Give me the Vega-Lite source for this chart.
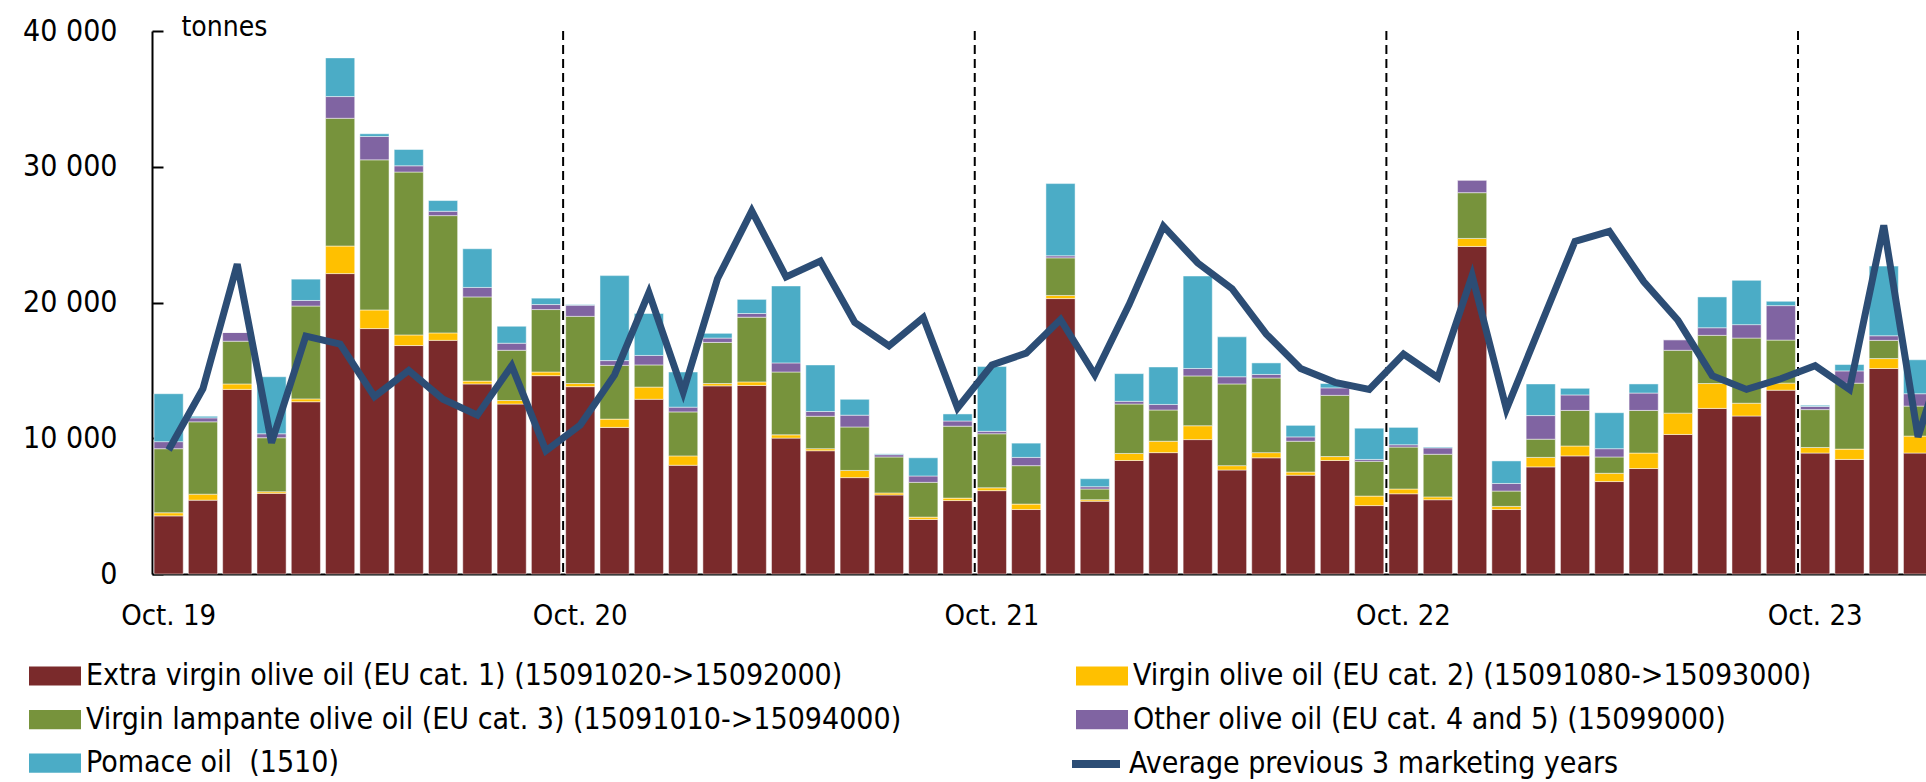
{
  "$schema": "https://vega.github.io/schema/vega-lite/v6.json",
  "width": 1774,
  "height": 543,
  "autosize": {"type": "none"},
  "padding": {"left": 152, "top": 31, "right": 0, "bottom": 208},
  "background": "white",
  "config": {"view": {"stroke": null}, "font": "DejaVu Sans Condensed"},
  "datasets": {
    "main": [
      {"m": "Oct. 19", "cat1": 4280, "cat2": 230, "cat3": 4720, "cat45": 520, "pomace": 3530, "avg": 9140},
      {"m": "Nov. 19", "cat1": 5440, "cat2": 440, "cat3": 5330, "cat45": 290, "pomace": 120, "avg": 13650},
      {"m": "Dec. 19", "cat1": 13600, "cat2": 400, "cat3": 3150, "cat45": 640, "pomace": 0, "avg": 22820},
      {"m": "Jan. 20", "cat1": 5940, "cat2": 120, "cat3": 3980, "cat45": 290, "pomace": 4200, "avg": 9670},
      {"m": "Feb. 20", "cat1": 12690, "cat2": 210, "cat3": 6840, "cat45": 410, "pomace": 1570, "avg": 17530},
      {"m": "Mar. 20", "cat1": 22130, "cat2": 2030, "cat3": 9410, "cat45": 1600, "pomace": 2850, "avg": 16940},
      {"m": "Apr. 20", "cat1": 18080, "cat2": 1370, "cat3": 11060, "cat45": 1720, "pomace": 200, "avg": 13070},
      {"m": "May 20", "cat1": 16830, "cat2": 780, "cat3": 12000, "cat45": 460, "pomace": 1200, "avg": 14990},
      {"m": "Jun. 20", "cat1": 17210, "cat2": 550, "cat3": 8640, "cat45": 320, "pomace": 790, "avg": 12870},
      {"m": "Jul. 20", "cat1": 14000, "cat2": 210, "cat3": 6200, "cat45": 700, "pomace": 2850, "avg": 11700},
      {"m": "Aug. 20", "cat1": 12520, "cat2": 260, "cat3": 3700, "cat45": 520, "pomace": 1250, "avg": 15340},
      {"m": "Sep. 20", "cat1": 14610, "cat2": 270, "cat3": 4600, "cat45": 370, "pomace": 470, "avg": 9080},
      {"m": "Oct. 20", "cat1": 13800, "cat2": 230, "cat3": 4950, "cat45": 820, "pomace": 50, "avg": 10980},
      {"m": "Nov. 20", "cat1": 10800, "cat2": 610, "cat3": 3960, "cat45": 350, "pomace": 6260, "avg": 14670},
      {"m": "Dec. 20", "cat1": 12870, "cat2": 900, "cat3": 1630, "cat45": 700, "pomace": 3090, "avg": 20730},
      {"m": "Jan. 21", "cat1": 8010, "cat2": 690, "cat3": 3240, "cat45": 350, "pomace": 2590, "avg": 13390},
      {"m": "Feb. 21", "cat1": 13860, "cat2": 170, "cat3": 3030, "cat45": 320, "pomace": 350, "avg": 21750},
      {"m": "Mar. 21", "cat1": 13890, "cat2": 260, "cat3": 4770, "cat45": 270, "pomace": 1040, "avg": 26750},
      {"m": "Apr. 21", "cat1": 10010, "cat2": 240, "cat3": 4630, "cat45": 670, "pomace": 5670, "avg": 21890},
      {"m": "May 21", "cat1": 9080, "cat2": 150, "cat3": 2390, "cat45": 350, "pomace": 3430, "avg": 23060},
      {"m": "Jun. 21", "cat1": 7100, "cat2": 530, "cat3": 3200, "cat45": 870, "pomace": 1170, "avg": 18540},
      {"m": "Jul. 21", "cat1": 5820, "cat2": 150, "cat3": 2650, "cat45": 170, "pomace": 60, "avg": 16800},
      {"m": "Aug. 21", "cat1": 4020, "cat2": 170, "cat3": 2560, "cat45": 470, "pomace": 1340, "avg": 18890},
      {"m": "Sep. 21", "cat1": 5410, "cat2": 180, "cat3": 5300, "cat45": 380, "pomace": 520, "avg": 12230},
      {"m": "Oct. 21", "cat1": 6140, "cat2": 210, "cat3": 3980, "cat45": 180, "pomace": 4770, "avg": 15400},
      {"m": "Nov. 21", "cat1": 4750, "cat2": 400, "cat3": 2830, "cat45": 610, "pomace": 1050, "avg": 16270},
      {"m": "Dec. 21", "cat1": 20290, "cat2": 230, "cat3": 2770, "cat45": 150, "pomace": 5320, "avg": 18750},
      {"m": "Jan. 22", "cat1": 5360, "cat2": 110, "cat3": 790, "cat45": 170, "pomace": 590, "avg": 14670},
      {"m": "Feb. 22", "cat1": 8360, "cat2": 520, "cat3": 3640, "cat45": 200, "pomace": 2040, "avg": 19850},
      {"m": "Mar. 22", "cat1": 8940, "cat2": 840, "cat3": 2300, "cat45": 410, "pomace": 2760, "avg": 25620},
      {"m": "Apr. 22", "cat1": 9900, "cat2": 1020, "cat3": 3670, "cat45": 550, "pomace": 6810, "avg": 22910},
      {"m": "May 22", "cat1": 7660, "cat2": 320, "cat3": 6020, "cat45": 530, "pomace": 2940, "avg": 21020},
      {"m": "Jun. 22", "cat1": 8560, "cat2": 380, "cat3": 5500, "cat45": 260, "pomace": 850, "avg": 17670},
      {"m": "Jul. 22", "cat1": 7280, "cat2": 230, "cat3": 2270, "cat45": 320, "pomace": 850, "avg": 15140},
      {"m": "Aug. 22", "cat1": 8360, "cat2": 290, "cat3": 4510, "cat45": 550, "pomace": 320, "avg": 14120},
      {"m": "Sep. 22", "cat1": 5040, "cat2": 700, "cat3": 2560, "cat45": 140, "pomace": 2300, "avg": 13600},
      {"m": "Oct. 22", "cat1": 5910, "cat2": 350, "cat3": 3090, "cat45": 170, "pomace": 1280, "avg": 16200},
      {"m": "Nov. 22", "cat1": 5470, "cat2": 210, "cat3": 3140, "cat45": 470, "pomace": 60, "avg": 14470},
      {"m": "Dec. 22", "cat1": 24130, "cat2": 590, "cat3": 3370, "cat45": 930, "pomace": 0, "avg": 21980},
      {"m": "Jan. 23", "cat1": 4750, "cat2": 230, "cat3": 1130, "cat45": 560, "pomace": 1660, "avg": 12140},
      {"m": "Feb. 23", "cat1": 7890, "cat2": 700, "cat3": 1340, "cat45": 1740, "pomace": 2330, "avg": 18340},
      {"m": "Mar. 23", "cat1": 8700, "cat2": 730, "cat3": 2620, "cat45": 1140, "pomace": 490, "avg": 24510},
      {"m": "Apr. 23", "cat1": 6810, "cat2": 610, "cat3": 1200, "cat45": 610, "pomace": 2650, "avg": 25240},
      {"m": "May 23", "cat1": 7770, "cat2": 1140, "cat3": 3140, "cat45": 1280, "pomace": 670, "avg": 21540},
      {"m": "Jun. 23", "cat1": 10280, "cat2": 1570, "cat3": 4630, "cat45": 780, "pomace": 0, "avg": 18690},
      {"m": "Jul. 23", "cat1": 12200, "cat2": 1830, "cat3": 3550, "cat45": 560, "pomace": 2270, "avg": 14610},
      {"m": "Aug. 23", "cat1": 11640, "cat2": 940, "cat3": 4800, "cat45": 990, "pomace": 3260, "avg": 13600},
      {"m": "Sep. 23", "cat1": 13540, "cat2": 520, "cat3": 3170, "cat45": 2540, "pomace": 320, "avg": 14380},
      {"m": "Oct. 23", "cat1": 8910, "cat2": 410, "cat3": 2790, "cat45": 230, "pomace": 90, "avg": 15340},
      {"m": "Nov. 23", "cat1": 8440, "cat2": 760, "cat3": 4860, "cat45": 900, "pomace": 470, "avg": 13600},
      {"m": "Dec. 23", "cat1": 15140, "cat2": 730, "cat3": 1340, "cat45": 340, "pomace": 5130, "avg": 25680},
      {"m": "Jan. 24", "cat1": 8910, "cat2": 1250, "cat3": 2210, "cat45": 910, "pomace": 2500, "avg": 10100},
      {"m": "Feb. 24", "avg": 18100}
    ],
    "oct": [
      {"m": "Oct. 20"}, {"m": "Oct. 21"}, {"m": "Oct. 22"}, {"m": "Oct. 23"}
    ]
  },
  "data": {"name": "main"},
  "encoding": {
    "x": {
      "field": "m",
      "type": "ordinal",
      "scale": {
        "type": "band",
        "domain": ["Oct. 19","Nov. 19","Dec. 19","Jan. 20","Feb. 20","Mar. 20","Apr. 20","May 20","Jun. 20","Jul. 20","Aug. 20","Sep. 20",
                   "Oct. 20","Nov. 20","Dec. 20","Jan. 21","Feb. 21","Mar. 21","Apr. 21","May 21","Jun. 21","Jul. 21","Aug. 21","Sep. 21",
                   "Oct. 21","Nov. 21","Dec. 21","Jan. 22","Feb. 22","Mar. 22","Apr. 22","May 22","Jun. 22","Jul. 22","Aug. 22","Sep. 22",
                   "Oct. 22","Nov. 22","Dec. 22","Jan. 23","Feb. 23","Mar. 23","Apr. 23","May 23","Jun. 23","Jul. 23","Aug. 23","Sep. 23",
                   "Oct. 23","Nov. 23","Dec. 23","Jan. 24","Feb. 24"],
        "range": [0, 1817],
        "paddingInner": 0.15,
        "paddingOuter": 0.06
      },
      "axis": {
        "values": ["Oct. 19", "Oct. 20", "Oct. 21", "Oct. 22", "Oct. 23"],
        "title": null,
        "ticks": false,
        "grid": false,
        "labelAngle": 0,
        "labelFont": "DejaVu Sans Condensed",
        "labelFontSize": 29,
        "labelColor": "black",
        "labelPadding": 27,
        "domainColor": "black",
        "domainWidth": 2
      }
    }
  },
  "layer": [
    {
      "transform": [
        {"filter": "isValid(datum.cat1)"},
        {"fold": ["cat1", "cat2", "cat3", "cat45", "pomace"], "as": ["key", "value"]}
      ],
      "mark": {"type": "bar", "stroke": "white", "strokeWidth": 0.8, "strokeOpacity": 0.6},
      "encoding": {
        "y": {
          "field": "value",
          "type": "quantitative",
          "stack": "zero",
          "scale": {"domain": [0, 40000], "nice": false},
          "axis": {
            "values": [0, 10000, 20000, 30000, 40000],
            "labelExpr": "replace(format(datum.value, ','), ',', ' ')",
            "grid": false,
            "tickSize": -11,
            "tickWidth": 2,
            "tickColor": "black",
            "domainColor": "black",
            "domainWidth": 2,
            "labelPadding": 46,
            "labelFont": "DejaVu Sans Condensed",
            "labelFontSize": 30,
            "labelColor": "black",
            "title": "tonnes",
            "titleAngle": 0,
            "titleX": 29,
            "titleY": 4,
            "titleAlign": "left",
            "titleBaseline": "alphabetic",
            "titleFont": "DejaVu Sans Condensed",
            "titleFontSize": 28,
            "titleFontWeight": "normal",
            "titleColor": "black"
          }
        },
        "color": {
          "field": "key",
          "type": "nominal",
          "scale": {
            "domain": ["cat1", "cat2", "cat3", "cat45", "pomace"],
            "range": ["#7A2A2B", "#FFC000", "#77933C", "#8064A2", "#4BACC6"]
          },
          "legend": {
            "orient": "none",
            "direction": "horizontal",
            "legendX": -112,
            "legendY": 630,
            "columns": 2,
            "columnPadding": 174,
            "rowPadding": 13.6,
            "padding": 0,
            "title": null,
            "labelFont": "DejaVu Sans Condensed",
            "labelFontSize": 30,
            "labelColor": "black",
            "labelLimit": 0,
            "labelOffset": 16,
            "symbolType": "M-2,-0.74H2V0.74H-2Z",
            "symbolSize": 676,
            "symbolStrokeWidth": 0,
            "symbolOpacity": 1,
            "labelExpr": "datum.value == 'cat1' ? 'Extra virgin olive oil (EU cat. 1) (15091020->15092000)' : datum.value == 'cat2' ? 'Virgin olive oil (EU cat. 2) (15091080->15093000)' : datum.value == 'cat3' ? 'Virgin lampante olive oil (EU cat. 3) (15091010->15094000)' : datum.value == 'cat45' ? 'Other olive oil (EU cat. 4 and 5) (15099000)' : 'Pomace oil \u00a0(1510)'"
          }
        },
        "order": {"field": "key", "sort": "ascending"}
      }
    },
    {
      "data": {"name": "oct"},
      "mark": {"type": "rule", "strokeDash": [9, 5], "strokeWidth": 2, "color": "black"},
      "encoding": {
        "x": {"field": "m", "type": "ordinal", "bandPosition": -0.088}
      }
    },
    {
      "mark": {"type": "line", "strokeWidth": 7},
      "encoding": {
        "y": {"field": "avg", "type": "quantitative"},
        "stroke": {
          "datum": "Average previous 3 marketing years",
          "type": "nominal",
          "scale": {"domain": ["Average previous 3 marketing years"], "range": ["#2C4D75"]},
          "legend": {
            "orient": "none",
            "legendX": 916,
            "legendY": 705,
            "padding": 0,
            "title": null,
            "labelFont": "DejaVu Sans Condensed",
            "labelFontSize": 30,
            "labelColor": "black",
            "labelLimit": 0,
            "labelOffset": 5,
            "symbolType": "stroke",
            "symbolSize": 2304,
            "symbolStrokeWidth": 8,
            "symbolStrokeColor": "#2C4D75",
            "symbolOpacity": 1
          }
        }
      }
    }
  ]
}
